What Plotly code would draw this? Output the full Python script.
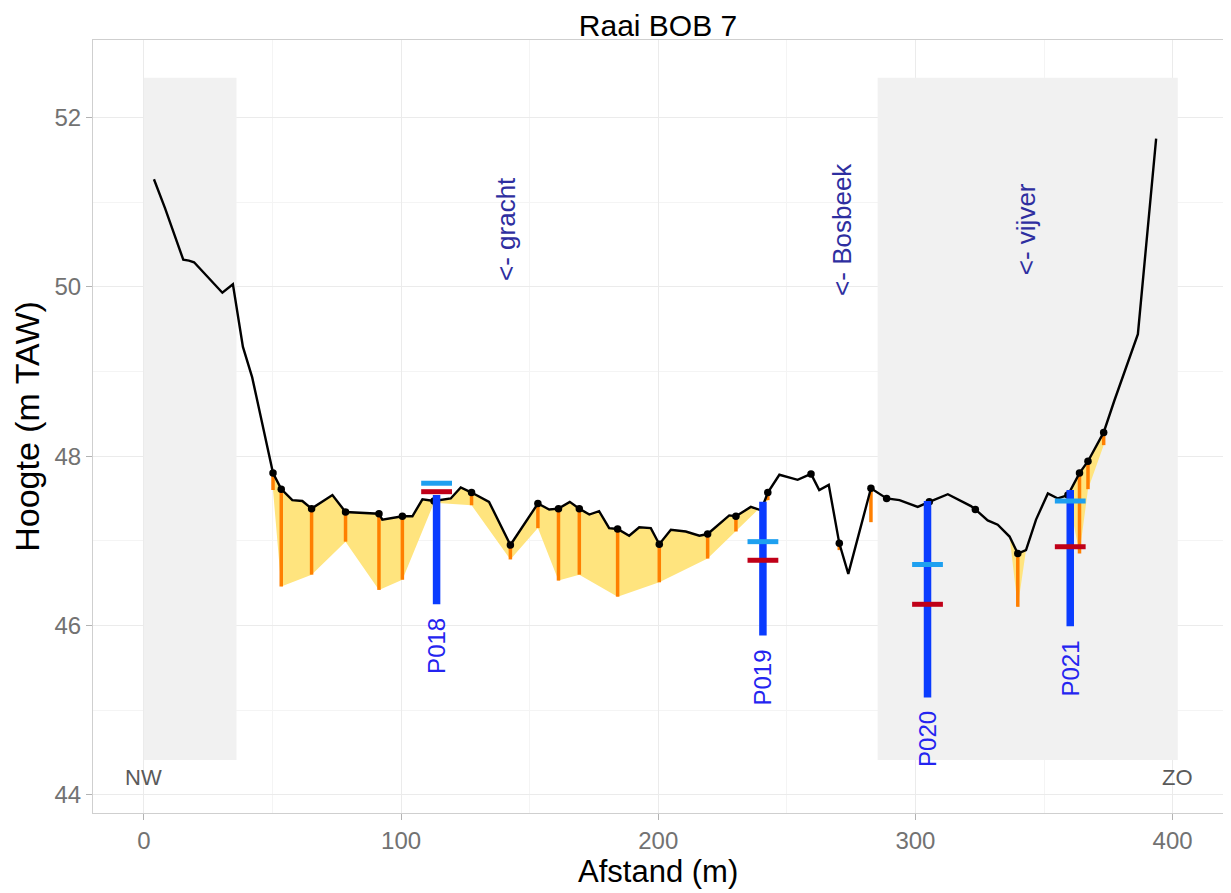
import plotly.graph_objects as go

# ---------------- data ----------------
title_text = "Raai BOB 7"
x_title = "Afstand (m)"
y_title = "Hoogte (m TAW)"

# terrain profile (distance in m, height in m TAW)
profile_x = [3.9, 8.2, 15.3, 17.5, 19.5, 30.5, 34.6, 38.5, 42.1, 50.2, 53.4, 57.7, 61.6, 65.2,
             73.3, 78.4, 91.4, 92.7, 100.5, 104.4, 108.3, 112.8, 119.3, 123.2, 127.4, 134.2,
             142.5, 153.2, 157.6, 161.2, 165.6, 169.3, 173.2, 177.0, 180.9, 184.2, 188.7,
             192.6, 197.1, 200.4, 204.9, 210.7, 216.0, 219.2, 227.6, 230.2, 236.0, 240.0,
             242.6, 247.1, 254.2, 259.4, 262.6, 266.3, 270.4, 273.9, 282.7, 288.8, 293.8,
             300.9, 305.4, 312.6, 321.6, 323.3, 328.1, 332.0, 336.6, 339.8, 343.0, 346.9,
             351.5, 355.4, 359.3, 363.8, 367.1, 373.2, 377.4, 386.5, 393.6]
profile_h = [51.27, 50.93, 50.32, 50.31, 50.29, 49.93, 50.03, 49.29, 48.93, 47.80, 47.61, 47.48,
             47.47, 47.38, 47.54, 47.34, 47.32, 47.25, 47.29, 47.29, 47.49, 47.47, 47.50, 47.63,
             47.57, 47.46, 46.95, 47.44, 47.37, 47.38, 47.46, 47.38, 47.31, 47.35, 47.15, 47.14,
             47.06, 47.16, 47.15, 46.96, 47.13, 47.11, 47.06, 47.08, 47.30, 47.29, 47.40, 47.36,
             47.57, 47.78, 47.72, 47.79, 47.60, 47.66, 46.97, 46.61, 47.62, 47.50, 47.48, 47.40,
             47.46, 47.55, 47.41, 47.37, 47.24, 47.19, 47.05, 46.85, 46.89, 47.25, 47.56, 47.50,
             47.54, 47.80, 47.94, 48.28, 48.66, 49.44, 51.75]

# boring points: distance and base of the peat layer (m TAW)
dot_x = [50.2, 53.4, 65.2, 78.4, 91.4, 100.5, 112.8, 127.4, 142.5, 153.2, 161.2, 169.3, 184.2,
         200.4, 219.2, 230.2, 242.6, 259.4, 270.4, 282.7, 288.8, 305.4, 323.3, 339.8, 359.3,
         363.8, 367.1, 373.2]
dot_bottom = [47.60, 46.46, 46.60, 46.99, 46.42, 46.54, 47.45, 47.42, 46.78, 47.15, 46.53, 46.60,
              46.34, 46.51, 46.79, 47.11, 47.48, 47.79, 46.89, 47.22, 47.50, 47.46, 47.37, 46.22,
              47.54, 46.85, 47.61, 48.13]

# stretches of the profile underlain by peat (start, end distance)
peat_start = [50.2, 336.6, 359.3]
peat_end = [242.6, 343.0, 373.2]

# piezometers
piezo_name = ["P018", "P019", "P020", "P021"]
piezo_x = [113.8, 240.7, 304.7, 360.2]
piezo_top = [47.54, 47.46, 47.47, 47.60]
piezo_bottom = [46.25, 45.88, 45.15, 45.99]
piezo_level_a = [47.68, 46.99, 46.72, 47.47]   # light blue
piezo_level_b = [47.58, 46.77, 46.25, 46.93]   # red

# shaded zones
zone_x0 = [0, 285.3]
zone_x1 = [36, 402]
zone_y0 = [44.41, 44.41]
zone_y1 = [52.47, 52.47]

# text labels
feature_text = ["<- gracht", "<- Bosbeek", "<- vijver"]
feature_x = [140.7, 271.7, 343.0]
feature_y = [50.68, 50.68, 50.68]
side_text = ["NW", "ZO"]
side_x = [0, 402]
side_y = [44.2, 44.2]

x_ticks = [0, 100, 200, 300, 400]
y_ticks = [44, 46, 48, 50, 52]

# ---------------- figure ----------------
FONT = "Liberation Sans, Arial, sans-serif"
W, H = 1223, 885          # page body has an 8 px margin
fig = go.Figure()

for x0, x1, y0, y1 in zip(zone_x0, zone_x1, zone_y0, zone_y1):
    fig.add_trace(go.Scatter(x=[x0, x1, x1, x0, x0], y=[y0, y0, y1, y1, y0], mode="lines",
                             fill="toself", fillcolor="#F1F1F1", line=dict(width=0),
                             hoverinfo="skip"))

top_of = dict(zip(profile_x, profile_h))
bottom_of = dict(zip(dot_x, dot_bottom))

# peat ribbons
for s, e in zip(peat_start, peat_end):
    px = [x for x in profile_x if s <= x <= e]
    py = [top_of[x] for x in px]
    bx = [x for x in px if x in bottom_of or x in (s, e)]
    by = [bottom_of.get(x, top_of[x]) for x in bx]
    fig.add_trace(go.Scatter(x=px + bx[::-1], y=py + by[::-1], mode="lines", fill="toself",
                             fillcolor="#FFE47E", line=dict(width=0), hoverinfo="skip"))

# orange peat thickness sticks
ox, oy = [], []
for x, b in zip(dot_x, dot_bottom):
    if b < top_of[x]:
        ox += [x, x, None]
        oy += [top_of[x], b, None]
fig.add_trace(go.Scatter(x=ox, y=oy, mode="lines", line=dict(color="#FF7F00", width=3.5),
                         hoverinfo="skip"))

fig.add_trace(go.Scatter(x=profile_x, y=profile_h, mode="lines",
                         line=dict(color="black", width=2.4)))
fig.add_trace(go.Scatter(x=dot_x, y=[top_of[x] for x in dot_x], mode="markers",
                         marker=dict(color="black", size=7.5)))

# piezometer filters
bx_, by_ = [], []
for x, t, b in zip(piezo_x, piezo_top, piezo_bottom):
    bx_ += [x, x, None]
    by_ += [t, b, None]
fig.add_trace(go.Scatter(x=bx_, y=by_, mode="lines", line=dict(color="#0A3CFF", width=7.5)))
fig.add_trace(go.Scatter(x=piezo_x, y=piezo_level_a, mode="markers",
                         marker=dict(symbol="line-ew", size=22,
                                     line=dict(color="#1EA0F0", width=5))))
fig.add_trace(go.Scatter(x=piezo_x, y=piezo_level_b, mode="markers",
                         marker=dict(symbol="line-ew", size=22,
                                     line=dict(color="#C00018", width=5))))

for name, x, b in zip(piezo_name, piezo_x, piezo_bottom):
    fig.add_annotation(x=x, y=b, text=name, showarrow=False, textangle=-90,
                       xanchor="center", yanchor="top", yshift=-12,
                       font=dict(family=FONT, size=24, color="#2424F0"))
for t, x, y in zip(feature_text, feature_x, feature_y):
    fig.add_annotation(x=x, y=y, text=t, showarrow=False, textangle=-90,
                       xanchor="center", yanchor="middle",
                       font=dict(family=FONT, size=26, color="#2E2EA0"))
for t, x, y in zip(side_text, side_x, side_y):
    fig.add_annotation(x=x, y=y, text=t, showarrow=False, xanchor="center", yanchor="middle",
                       font=dict(family=FONT, size=22, color="#5A5A5A"))

# x axis title
fig.add_annotation(x=0.5, y=0, xref="paper", yref="paper", text=x_title, showarrow=False,
                   xanchor="center", yanchor="middle", yshift=-58,
                   font=dict(family=FONT, size=31, color="black"))

axis_common = dict(showgrid=True, gridcolor="#EBEBEB", gridwidth=1, zeroline=False,
                   ticks="outside", ticklen=6, tickcolor="#B3B3B3", tickwidth=1,
                   tickfont=dict(family=FONT, size=24, color="#727272"),
                   showline=True, mirror=True, linecolor="#CFCFCF", linewidth=1,
                   automargin=False)

fig.update_layout(
    width=W, height=H,
    margin=dict(l=85, r=8, t=32, b=80),
    plot_bgcolor="white", paper_bgcolor="white",
    showlegend=False,
    title=dict(text=title_text, x=0.5, xref="paper", y=1 - 17 / H, yref="container",
               xanchor="center", yanchor="middle",
               font=dict(family=FONT, size=30, color="black")),
    xaxis=dict(range=[-19.8, 419.6], tickvals=x_ticks,
               minor=dict(tickvals=[50, 150, 250, 350], showgrid=True, gridcolor="#F4F4F4",
                          ticks=""),
               **axis_common),
    yaxis=dict(range=[43.785, 52.915], tickvals=y_ticks,
               minor=dict(tickvals=[45, 47, 49, 51], showgrid=True, gridcolor="#F4F4F4",
                          ticks=""),
               title=dict(text=y_title, standoff=4,
                          font=dict(family=FONT, size=34, color="black")),
               **axis_common),
)

fig.write_html("out.html")
